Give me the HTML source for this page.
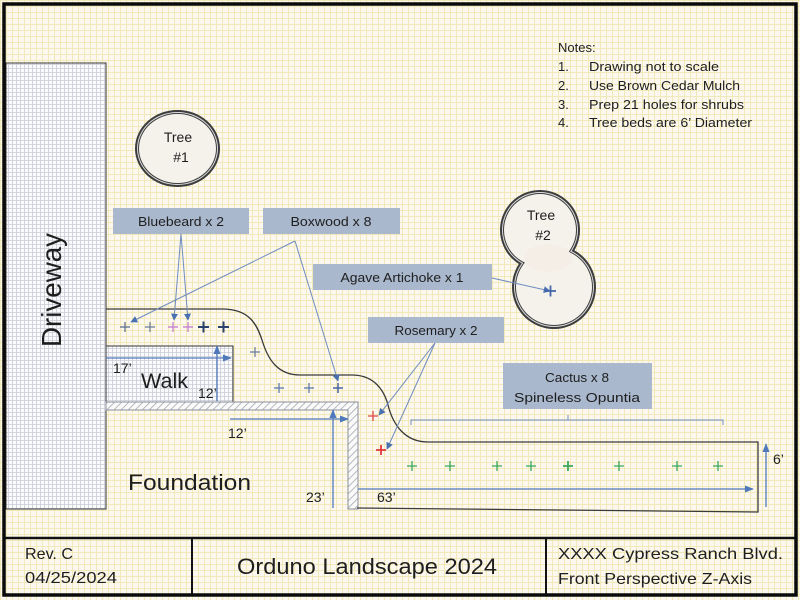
<!DOCTYPE html>
<html><head><meta charset="utf-8"><style>
html,body{margin:0;padding:0;background:#fff;}
svg{display:block;}
text{font-family:"Liberation Sans",sans-serif;fill:#1e1e1e;}
</style></head><body>
<svg width="800" height="600" viewBox="0 0 800 600" xmlns="http://www.w3.org/2000/svg">
<defs>
<pattern id="g" width="6" height="6" patternUnits="userSpaceOnUse">
<rect width="6" height="6" fill="#fcf8ef"/>
<path d="M0 0.5H6M0.5 0V6" stroke="#f1eab8" stroke-width="1"/>
</pattern>
<pattern id="d" width="4" height="4" patternUnits="userSpaceOnUse">
<rect width="4" height="4" fill="#fbfbfd"/>
<path d="M0 0.5H4M0.5 0V4" stroke="#c9cbd6" stroke-width="0.8"/>
</pattern>
<pattern id="h" width="5" height="5" patternUnits="userSpaceOnUse" patternTransform="rotate(45)">
<rect width="5" height="5" fill="#fafafa"/>
<path d="M0 0V5" stroke="#a4a8b0" stroke-width="1.6"/>
</pattern>
<marker id="a" viewBox="0 0 10 10" refX="9" refY="5" markerWidth="7" markerHeight="7" orient="auto" markerUnits="userSpaceOnUse">
<path d="M0 0L10 5L0 10z" fill="#4a70b0"/>
</marker>
<marker id="b" viewBox="0 0 10 10" refX="9" refY="5" markerWidth="9" markerHeight="9" orient="auto" markerUnits="userSpaceOnUse">
<path d="M0 1L10 5L0 9z" fill="#4f79bb"/>
</marker>
</defs>

<!-- background -->
<rect x="0" y="0" width="800" height="600" fill="url(#g)"/>

<!-- driveway -->
<rect x="6" y="63" width="100" height="446" fill="url(#d)" stroke="#333" stroke-width="1"/>
<text x="61" y="290" font-size="28" text-anchor="middle" transform="rotate(-90 61 290)" textLength="114" lengthAdjust="spacingAndGlyphs">Driveway</text>

<!-- walk -->
<rect x="106" y="346" width="127" height="56" fill="url(#d)" stroke="#333" stroke-width="1"/>

<!-- foundation hatch -->
<path d="M106 402H358V509H348V410H106Z" fill="url(#h)" stroke="#8a8f99" stroke-width="1"/>

<!-- bed outline -->
<path d="M106 309 L222 309 C250 309 257 325 262 340 C268 360 278 375 300 375 L352 375 C374 375 384 390 388 405 C393 425 405 442 428 442 L758 442 L758 512 L357 508" fill="none" stroke="#3a3a3a" stroke-width="1.3"/>

<!-- Tree 1 -->
<ellipse cx="177.5" cy="148.5" rx="42.5" ry="38.5" fill="#3c3c3c"/>
<ellipse cx="177.5" cy="148.5" rx="40.5" ry="36.5" fill="#dcdcdc"/>
<ellipse cx="177.5" cy="148.5" rx="39.5" ry="35.5" fill="#3c3c3c"/>
<ellipse cx="177.5" cy="148.5" rx="38.5" ry="34.5" fill="#f5f2ec"/>
<text x="178" y="142" font-size="14" text-anchor="middle">Tree</text>
<text x="181" y="162" font-size="14" text-anchor="middle">#1</text>

<!-- Tree 2 -->
<g>
<circle cx="540" cy="230" r="40" fill="#3c3c3c"/><circle cx="554" cy="287" r="42" fill="#3c3c3c"/>
<circle cx="540" cy="230" r="38" fill="#dcdcdc"/><circle cx="554" cy="287" r="40" fill="#dcdcdc"/>
<circle cx="540" cy="230" r="37" fill="#3c3c3c"/><circle cx="554" cy="287" r="39" fill="#3c3c3c"/>
<circle cx="540" cy="230" r="36" fill="#f5f2ec"/><circle cx="554" cy="287" r="38" fill="#f5f2ec"/>
<ellipse cx="548" cy="258" rx="24" ry="14" fill="#f5eee6"/>
</g>
<text x="541" y="220" font-size="14" text-anchor="middle">Tree</text>
<text x="543" y="240" font-size="14" text-anchor="middle">#2</text>

<!-- Notes -->
<g font-size="13">
<text x="558" y="52">Notes:</text>
<text x="558" y="71">1.</text><text x="589" y="71" textLength="130" lengthAdjust="spacingAndGlyphs">Drawing not to scale</text>
<text x="558" y="90">2.</text><text x="589" y="90" textLength="151" lengthAdjust="spacingAndGlyphs">Use Brown Cedar Mulch</text>
<text x="558" y="109">3.</text><text x="589" y="109" textLength="155" lengthAdjust="spacingAndGlyphs">Prep 21 holes for shrubs</text>
<text x="558" y="127">4.</text><text x="589" y="127" textLength="163" lengthAdjust="spacingAndGlyphs">Tree beds are 6’ Diameter</text>
</g>

<!-- label boxes -->
<g fill="#a9b8cd">
<rect x="113" y="208" width="136" height="26"/>
<rect x="263" y="208" width="137" height="26"/>
<rect x="313" y="264" width="179" height="26"/>
<rect x="368" y="317" width="136" height="26"/>
<rect x="503" y="363" width="149" height="46"/>
</g>
<g font-size="13" text-anchor="middle">
<text x="181" y="226" textLength="86" lengthAdjust="spacingAndGlyphs">Bluebeard x 2</text>
<text x="331" y="226" textLength="81" lengthAdjust="spacingAndGlyphs">Boxwood x 8</text>
<text x="402" y="282" textLength="123" lengthAdjust="spacingAndGlyphs">Agave Artichoke x 1</text>
<text x="436" y="335" textLength="83" lengthAdjust="spacingAndGlyphs">Rosemary x 2</text>
<text x="577" y="382" textLength="64" lengthAdjust="spacingAndGlyphs">Cactus x 8</text>
<text x="577" y="402" textLength="126" lengthAdjust="spacingAndGlyphs">Spineless Opuntia</text>
</g>

<!-- connectors -->
<g stroke="#6e8bbf" stroke-width="1" fill="none">
<line x1="181" y1="234" x2="174" y2="320" marker-end="url(#a)"/>
<line x1="181" y1="234" x2="188" y2="320" marker-end="url(#a)"/>
<line x1="295" y1="241" x2="131" y2="322" marker-end="url(#a)"/>
<line x1="295" y1="241" x2="338" y2="381" marker-end="url(#a)"/>
<line x1="492" y1="278" x2="550" y2="291" marker-end="url(#a)"/>
<line x1="435" y1="343" x2="379" y2="415" marker-end="url(#a)"/>
<line x1="435" y1="343" x2="387" y2="449" marker-end="url(#a)"/>
<path d="M411 425V420H723V425M568 420V415"/>
</g>

<!-- dimension arrows -->
<g stroke="#4f79bb" stroke-width="1.3" fill="none">
<line x1="106" y1="358" x2="231" y2="358" marker-end="url(#b)"/>
<line x1="217" y1="401" x2="217" y2="346" marker-end="url(#b)"/>
<line x1="230" y1="419" x2="348" y2="419" marker-end="url(#b)"/>
<line x1="333" y1="508" x2="333" y2="410" marker-end="url(#b)"/>
<line x1="358" y1="489" x2="753" y2="489" marker-end="url(#b)"/>
<line x1="766" y1="507" x2="766" y2="444" marker-end="url(#b)"/>
</g>
<g font-size="14">
<text x="113" y="373">17’</text>
<text x="198" y="398">12’</text>
<text x="228" y="438">12’</text>
<text x="306" y="502">23’</text>
<text x="377" y="502">63’</text>
<text x="773" y="464">6’</text>
</g>
<text x="141" y="388" font-size="21" textLength="47" lengthAdjust="spacingAndGlyphs">Walk</text>
<text x="128" y="490" font-size="22" textLength="123" lengthAdjust="spacingAndGlyphs">Foundation</text>

<!-- plants -->
<g fill="none">
<path d="M120 327h10M125 322v10" stroke="#5a6a8c" stroke-width="1.2"/>
<path d="M145 327h10M150 322v10" stroke="#6a7a98" stroke-width="1.2"/>
<path d="M168 327h10M173 322v10" stroke="#c888d0" stroke-width="1.4"/>
<path d="M183 327h10M188 322v10" stroke="#c888d0" stroke-width="1.4"/>
<path d="M198 327h11M203.5 321.5v11" stroke="#2c426e" stroke-width="2"/>
<path d="M218 327h11M223.5 321.5v11" stroke="#2c426e" stroke-width="2"/>
<path d="M250 352h10M255 347v10" stroke="#6a7a98" stroke-width="1.2"/>
<path d="M274 388h10M279 383v10" stroke="#5a74a8" stroke-width="1.2"/>
<path d="M304 388h10M309 383v10" stroke="#5a74a8" stroke-width="1.2"/>
<path d="M333 388h10M338 383v10" stroke="#4a64a0" stroke-width="1.5"/>
<path d="M368 416h10M373 411v10" stroke="#e04848" stroke-width="1.3"/>
<path d="M376 450h10M381 445v10" stroke="#e03838" stroke-width="1.8"/>
<path d="M545 291h11M550.5 285.5v11" stroke="#4466aa" stroke-width="1.8"/>
<g stroke="#3aa85a" stroke-width="1.3">
<path d="M407 466h10M412 461v10"/>
<path d="M445 466h10M450 461v10"/>
<path d="M492 466h10M497 461v10"/>
<path d="M526 466h10M531 461v10"/>
<path d="M563 466h10M568 461v10" stroke-width="1.8"/>
<path d="M614 466h10M619 461v10"/>
<path d="M672 466h10M677 461v10"/>
<path d="M713 466h10M718 461v10"/>
</g>
</g>

<!-- title block -->
<g stroke="#111" fill="none">
<line x1="4" y1="538" x2="796" y2="538" stroke-width="2.5"/>
<line x1="192" y1="538" x2="192" y2="595" stroke-width="2"/>
<line x1="546" y1="538" x2="546" y2="595" stroke-width="2"/>
</g>
<text x="25" y="559" font-size="16" textLength="48" lengthAdjust="spacingAndGlyphs">Rev. C</text>
<text x="25" y="583" font-size="16" textLength="92" lengthAdjust="spacingAndGlyphs">04/25/2024</text>
<text x="237" y="574" font-size="22" textLength="260" lengthAdjust="spacingAndGlyphs">Orduno Landscape 2024</text>
<text x="558" y="559" font-size="16" textLength="225" lengthAdjust="spacingAndGlyphs">XXXX Cypress Ranch Blvd.</text>
<text x="558" y="584" font-size="16" textLength="194" lengthAdjust="spacingAndGlyphs">Front Perspective Z-Axis</text>

<!-- outer border -->
<rect x="4" y="4" width="792" height="591" fill="none" stroke="#0a0a0a" stroke-width="3.5"/>
</svg>
</body></html>
